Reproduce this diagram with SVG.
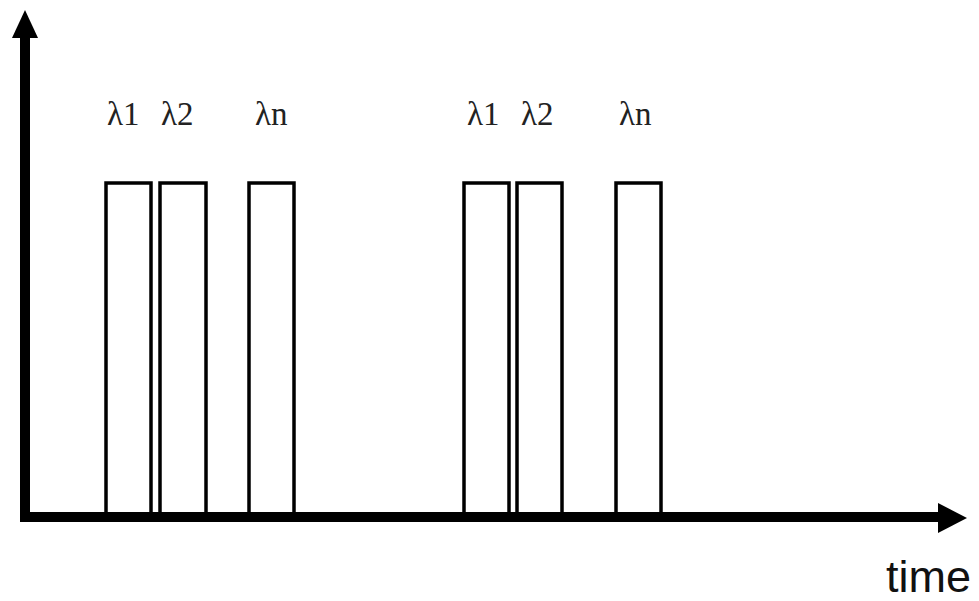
<svg xmlns="http://www.w3.org/2000/svg" width="979" height="601" viewBox="0 0 979 601">
<style>
.axis{stroke:#000;stroke-width:10;fill:none}
.pulse{fill:none;stroke:#000;stroke-width:3.5}
.lbl{font-family:"Liberation Serif","DejaVu Serif",serif;font-size:33px;fill:#222}
.t{font-family:"Liberation Sans","DejaVu Sans",sans-serif;font-size:45px;fill:#111}
</style>
<rect width="979" height="601" fill="#fff"/>
<g id="axes">
<path class="axis" d="M25 517 V36"/>
<path class="axis" d="M20 517 H940"/>
<polygon points="25,10 12,38 38,38" fill="#000"/>
<polygon points="967,518 938,503 938,533" fill="#000"/>
</g>
<g id="pulse1"><rect class="pulse" x="106" y="183" width="45" height="332"/></g>
<g id="pulse2"><rect class="pulse" x="160" y="183" width="46" height="332"/></g>
<g id="pulse3"><rect class="pulse" x="249" y="183" width="45" height="332"/></g>
<g id="pulse4"><rect class="pulse" x="464" y="183" width="45" height="332"/></g>
<g id="pulse5"><rect class="pulse" x="517" y="183" width="45" height="332"/></g>
<g id="pulse6"><rect class="pulse" x="616" y="183" width="45" height="332"/></g>
<g id="labels">
<text class="lbl" x="107" y="125">λ1</text>
<text class="lbl" x="161" y="125">λ2</text>
<text class="lbl" x="255" y="125">λn</text>
<text class="lbl" x="467" y="125">λ1</text>
<text class="lbl" x="521" y="125">λ2</text>
<text class="lbl" x="619" y="125">λn</text>
<text class="t" x="886" y="592">time</text>
</g>
</svg>
